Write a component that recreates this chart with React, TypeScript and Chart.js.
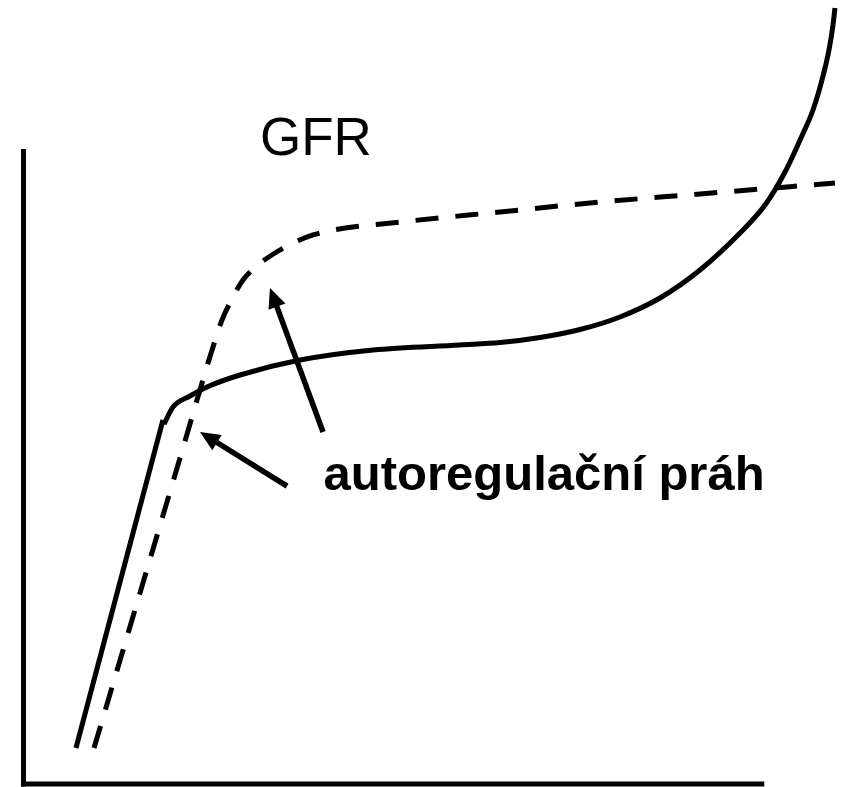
import React, { useEffect, useRef } from "react";
import { Chart, registerables } from "chart.js";

Chart.register(...registerables);

// Solid curve (autoregulated GFR) – steep initial rise
const solidRiseX = [6.46, 17.07];
const solidRiseY = [4.59, 46.43];
// Solid curve – plateau and final steep rise
const solidCurveX = [17.2, 18.29, 20.37, 22.44, 26.46, 33.78, 42.68, 53.29, 58.17, 63.05, 67.93, 72.8, 77.68, 82.56, 87.44, 90.49, 92.93, 94.76, 96.34, 97.44, 98.29, 98.78, 99.02];
const solidCurveY = [45.9, 48.09, 49.49, 50.64, 52.17, 54.08, 55.36, 56.0, 56.3, 56.95, 57.97, 59.57, 61.99, 65.56, 70.28, 73.85, 78.06, 82.14, 85.97, 89.8, 93.62, 96.81, 98.98];
// Dashed curve
const dashedX = [8.66, 19.15, 23.17, 24.27, 25.61, 26.83, 28.66, 30.73, 32.93, 35.37, 37.8, 45.98, 58.17, 70.37, 82.56, 99.02];
const dashedY = [4.59, 41.58, 55.74, 59.18, 62.12, 64.29, 66.2, 67.73, 69.0, 70.03, 70.66, 71.68, 72.96, 74.23, 75.26, 76.66];

// Axis extents (data units)
const axisXEnd = 90.4;
const axisYEnd = 81;

// Annotations
const gfrLabel = "GFR";
const gfrPos = [28.9, 80.23];
const thresholdLabel = "autoregulační práh";
const thresholdPos = [36.65, 37.5];
const arrow1 = [36.59, 44.9, 30.12, 63.27];
const arrow2 = [32.2, 38.0, 21.59, 44.9];

const toPts = (xs: number[], ys: number[]) => xs.map((x, i) => ({ x, y: ys[i] }));

const FONT = '"Liberation Sans", Arial, sans-serif';

const annotPlugin = {
  id: "annot",
  beforeDatasetsDraw(chart: any) {
    const { ctx, scales } = chart;
    const xs = scales.x, ys = scales.y;
    ctx.save();
    ctx.strokeStyle = "#000";
    ctx.lineWidth = 5;
    ctx.lineCap = "butt";
    ctx.beginPath();
    const x0 = xs.getPixelForValue(0) + 0.5;
    ctx.moveTo(x0, ys.getPixelForValue(axisYEnd));
    ctx.lineTo(x0, ys.getPixelForValue(0) + 2.5);
    ctx.stroke();
    ctx.beginPath();
    ctx.moveTo(xs.getPixelForValue(0) - 2, ys.getPixelForValue(0));
    ctx.lineTo(xs.getPixelForValue(axisXEnd), ys.getPixelForValue(0));
    ctx.stroke();
    ctx.restore();
  },
  afterDatasetsDraw(chart: any) {
    const { ctx, scales } = chart;
    const xs = scales.x, ys = scales.y;
    ctx.save();
    ctx.fillStyle = "#000";
    ctx.strokeStyle = "#000";
    const drawArrow = (a: number[]) => {
      const x1 = xs.getPixelForValue(a[0]), y1 = ys.getPixelForValue(a[1]);
      const x2 = xs.getPixelForValue(a[2]), y2 = ys.getPixelForValue(a[3]);
      const ang = Math.atan2(y2 - y1, x2 - x1);
      const headLen = 20, headW = 9;
      const bx = x2 - headLen * Math.cos(ang), by = y2 - headLen * Math.sin(ang);
      ctx.lineWidth = 5.5;
      ctx.lineCap = "butt";
      ctx.beginPath();
      ctx.moveTo(x1, y1);
      ctx.lineTo(bx + 2 * Math.cos(ang), by + 2 * Math.sin(ang));
      ctx.stroke();
      ctx.beginPath();
      ctx.moveTo(x2, y2);
      ctx.lineTo(bx + headW * Math.sin(ang), by - headW * Math.cos(ang));
      ctx.lineTo(bx - headW * Math.sin(ang), by + headW * Math.cos(ang));
      ctx.closePath();
      ctx.fill();
    };
    drawArrow(arrow1);
    drawArrow(arrow2);
    ctx.textAlign = "left";
    ctx.textBaseline = "alphabetic";
    ctx.font = `53px ${FONT}`;
    ctx.fillText(gfrLabel, xs.getPixelForValue(gfrPos[0]), ys.getPixelForValue(gfrPos[1]));
    ctx.font = `bold 49px ${FONT}`;
    ctx.fillText(thresholdLabel, xs.getPixelForValue(thresholdPos[0]), ys.getPixelForValue(thresholdPos[1]));
    ctx.restore();
  },
};

export default function App() {
  const ref = useRef<HTMLCanvasElement | null>(null);
  useEffect(() => {
    if (!ref.current) return;
    const chart = new Chart(ref.current, {
      type: "scatter",
      data: {
        datasets: [
          {
            data: toPts(solidRiseX, solidRiseY),
            showLine: true,
            borderColor: "#000",
            borderWidth: 5,
            tension: 0,
            pointRadius: 0,
            clip: false,
            borderCapStyle: "butt",
          },
          {
            data: toPts(solidCurveX, solidCurveY),
            showLine: true,
            borderColor: "#000",
            borderWidth: 5,
            cubicInterpolationMode: "monotone",
            pointRadius: 0,
            clip: false,
            borderCapStyle: "butt",
          },
          {
            data: toPts(dashedX, dashedY),
            showLine: true,
            borderColor: "#000",
            borderWidth: 5,
            borderDash: [23, 17],
            cubicInterpolationMode: "monotone",
            pointRadius: 0,
            clip: false,
            borderCapStyle: "butt",
          },
        ],
      },
      options: {
        animation: false,
        responsive: false,
        devicePixelRatio: 1,
        layout: { padding: { left: 23, right: 0, top: 0, bottom: 3 } },
        elements: { line: { capBezierPoints: false } },
        plugins: { legend: { display: false }, tooltip: { enabled: false } },
        scales: {
          x: { type: "linear", min: 0, max: 100, display: false },
          y: { type: "linear", min: 0, max: 100, display: false },
        },
      },
      plugins: [annotPlugin],
    } as any);
    return () => chart.destroy();
  }, []);
  return (
    <div style={{ position: "absolute", left: 0, top: 0, width: 843, height: 787, background: "#fff" }}>
      <canvas ref={ref} width={843} height={787} style={{ display: "block" }} />
    </div>
  );
}
